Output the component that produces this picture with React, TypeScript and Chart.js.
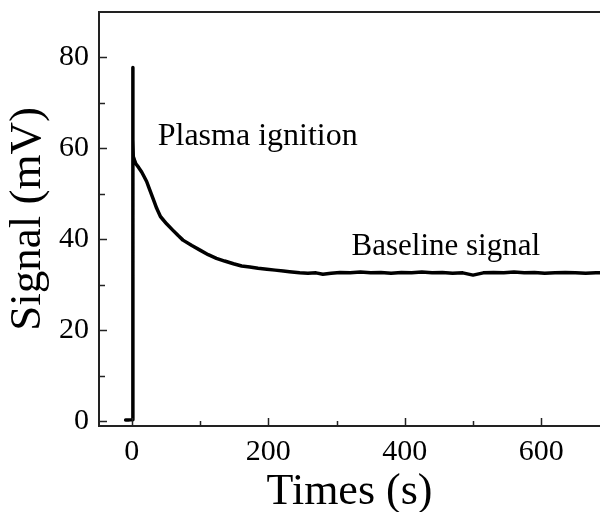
import React, { useEffect, useRef } from "react";
import { Chart, registerables } from "chart.js";

Chart.register(...registerables);

const TIMES = [
  -9, -5, 0, 1.4, 1.6, 1.7, 2.2, 4, 6, 10,
  14.5, 18, 21.8, 25, 29, 33, 36.5, 42, 51, 60,
  68, 75, 88, 100, 112, 124, 136, 149, 161, 173,
  185, 198, 210, 222, 231, 246, 258, 270, 280, 292,
  305, 320, 335, 350, 365, 380, 395, 410, 425, 440,
  455, 470, 485, 500, 515, 530, 545, 560, 575, 590,
  605, 620, 635, 650, 665, 680, 690,
];
const SIGNAL = [
  0.2, 0.2, 0.3, 0.3, 77.8, 62, 58.2, 57.4, 56.6, 55.8,
  54.8, 53.8, 52.7, 51.4, 49.8, 48.2, 46.8, 45.0, 43.4, 42.0,
  40.8, 39.8, 38.6, 37.6, 36.6, 35.8, 35.2, 34.6, 34.1, 33.9,
  33.6, 33.4, 33.2, 33.0, 32.85, 32.6, 32.5, 32.6, 32.3, 32.5,
  32.7, 32.6, 32.8, 32.6, 32.7, 32.5, 32.7, 32.6, 32.8, 32.6,
  32.7, 32.5, 32.6, 32.1, 32.6, 32.7, 32.6, 32.8, 32.6, 32.7,
  32.5, 32.6, 32.7, 32.6, 32.5, 32.6, 32.6,
];

const X_TICKS = [0, 200, 400, 600];
const X_MINOR = [100, 300, 500];
const Y_TICKS = [0, 20, 40, 60, 80];
const Y_MINOR = [10, 30, 50, 70];

const X_RANGE = [-48, 686];
const Y_RANGE = [-1.1, 90];

const X_TITLE = "Times (s)";
const Y_TITLE = "Signal (mV)";

const ANNOTATIONS = [
  { text: "Plasma ignition", x: 38, y: 60.7, size: 32 },
  { text: "Baseline signal", x: 322, y: 36.5, size: 31 },
];

const SERIF = "'Liberation Serif', 'Times New Roman', serif";
const AXIS_COLOR = "#222";

const decorPlugin = {
  id: "decor",
  afterDraw(chart: any) {
    const { ctx, chartArea, scales } = chart;
    const xs = scales.x;
    const ys = scales.y;
    ctx.save();
    ctx.strokeStyle = AXIS_COLOR;
    ctx.lineWidth = 2;
    ctx.beginPath();
    ctx.moveTo(chartArea.left - 1, chartArea.top);
    ctx.lineTo(chartArea.right, chartArea.top);
    ctx.stroke();
    ctx.lineWidth = 1.5;
    const drawX = (vals: number[], len: number) => {
      vals.forEach((v) => {
        const px = Math.round(xs.getPixelForValue(v)) + 0.5;
        ctx.beginPath();
        ctx.moveTo(px, chartArea.bottom);
        ctx.lineTo(px, chartArea.bottom - len);
        ctx.stroke();
      });
    };
    const drawY = (vals: number[], len: number) => {
      vals.forEach((v) => {
        const py = Math.round(ys.getPixelForValue(v)) + 0.5;
        ctx.beginPath();
        ctx.moveTo(chartArea.left, py);
        ctx.lineTo(chartArea.left + len, py);
        ctx.stroke();
      });
    };
    drawX(X_TICKS, 8);
    drawX(X_MINOR, 5);
    drawY(Y_TICKS, 8);
    drawY(Y_MINOR, 6);
    ctx.fillStyle = "#000";
    ctx.textAlign = "left";
    ctx.textBaseline = "alphabetic";
    ANNOTATIONS.forEach((a) => {
      ctx.font = `${a.size}px ${SERIF}`;
      ctx.fillText(a.text, xs.getPixelForValue(a.x), ys.getPixelForValue(a.y));
    });
    ctx.restore();
  },
};

export default function App() {
  const ref = useRef<HTMLCanvasElement | null>(null);
  useEffect(() => {
    if (!ref.current) return;
    const points = TIMES.map((t, i) => ({ x: t, y: SIGNAL[i] }));
    const chart = new Chart(ref.current, {
      type: "line",
      data: {
        datasets: [
          {
            data: points,
            borderColor: "#000",
            borderWidth: 3.5,
            pointRadius: 0,
            tension: 0,
            borderJoinStyle: "round",
            borderCapStyle: "round",
          },
        ],
      },
      options: {
        animation: false,
        responsive: false,
        layout: { padding: { top: 4, right: 0, left: 0, bottom: 0 } },
        plugins: { legend: { display: false }, tooltip: { enabled: false } },
        scales: {
          x: {
            type: "linear",
            min: X_RANGE[0],
            max: X_RANGE[1],
            afterBuildTicks: (s: any) => {
              s.ticks = X_TICKS.map((v) => ({ value: v }));
            },
            afterFit: (s: any) => {
              s.height = 86;
              s.paddingLeft = 0;
              s.paddingRight = 0;
            },
            grid: { drawOnChartArea: false, drawTicks: false },
            border: { color: AXIS_COLOR, width: 2 },
            ticks: {
              padding: 8,
              color: "#000",
              maxRotation: 0,
              font: { family: SERIF, size: 30 },
            },
            title: {
              display: true,
              text: X_TITLE,
              color: "#000",
              padding: 0,
              font: { family: SERIF, size: 44, lineHeight: 0.9 },
            },
          },
          y: {
            type: "linear",
            min: Y_RANGE[0],
            max: Y_RANGE[1],
            afterBuildTicks: (s: any) => {
              s.ticks = Y_TICKS.map((v) => ({ value: v }));
            },
            afterFit: (s: any) => {
              s.width = 91;
              s.paddingTop = 0;
              s.paddingBottom = 0;
            },
            grid: { drawOnChartArea: false, drawTicks: false },
            border: { color: AXIS_COLOR, width: 2 },
            ticks: {
              padding: 10,
              color: "#000",
              font: { family: SERIF, size: 30 },
            },
            title: {
              display: true,
              text: Y_TITLE,
              color: "#000",
              padding: 0,
              font: { family: SERIF, size: 45, lineHeight: 0.9 },
            },
          },
        },
      },
      plugins: [decorPlugin],
    });
    return () => chart.destroy();
  }, []);
  return (
    <div style={{ position: "fixed", left: 8, top: 8, width: 592, height: 504, overflow: "hidden" }}>
      <canvas ref={ref} width={592} height={504} style={{ display: "block" }} />
    </div>
  );
}
